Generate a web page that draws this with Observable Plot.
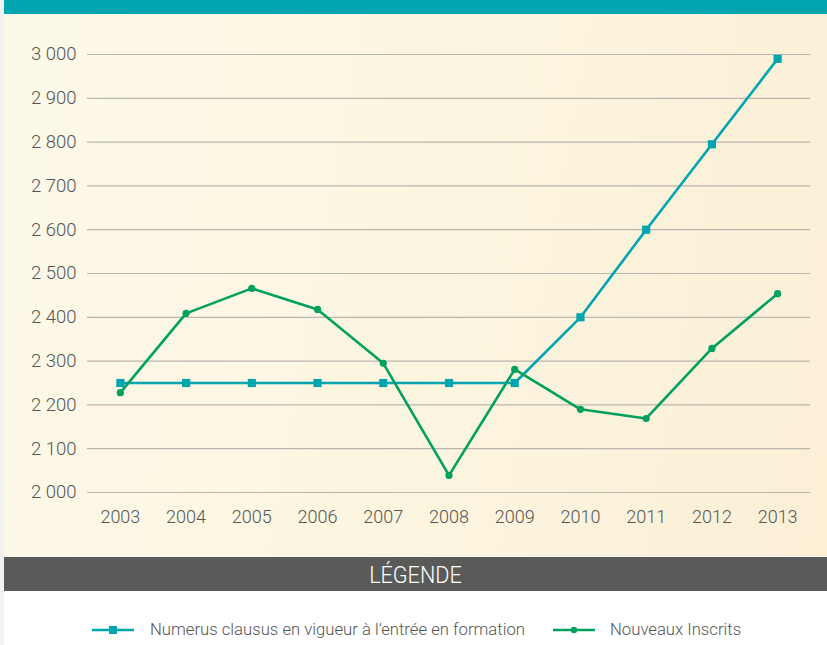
<!DOCTYPE html>
<html>
<head>
<meta charset="utf-8">
<script src="https://cdn.jsdelivr.net/npm/d3@7"></script>
<script src="https://cdn.jsdelivr.net/npm/@observablehq/plot@0.6"></script>
<style>
  html, body { margin: 0; padding: 0; background: #fff; }
  #page { position: relative; width: 827px; height: 645px; overflow: hidden; background: #fff; }
  #strip { position: absolute; left: 0; top: 0; width: 4px; height: 645px; background: #f2f2f2; }
  #banner { position: absolute; left: 4px; top: 0; width: 823px; height: 14px; background: #00a5af; }
  #chart { position: absolute; left: 4px; top: 14px; width: 823px; height: 542px;
    background: linear-gradient(100deg, #fdf9e9 0%, #fcf5df 55%, #fbefd6 100%); }
  #legendHead { position: absolute; left: 4px; top: 557px; width: 823px; height: 34px; background: #5a5a58;
    color: #fff; font-family: Roboto, "DejaVu Sans", sans-serif; font-weight: 300; font-size: 24px;
    text-align: center; line-height: 36px; }
  #legendHead span { display: inline-block; transform: scaleX(0.9); }
  #legend { position: absolute; left: 4px; top: 591px; width: 823px; height: 54px; background: #fff; }
  .item { position: absolute; top: 29px; font-family: Roboto, "Liberation Sans", sans-serif; font-weight: 300; font-size: 16.7px; color: #555; }
  .swatch { position: absolute; top: 8px; }
</style>
</head>
<body>
<div id="page">
  <div id="strip"></div>
  <div id="banner"></div>
  <div id="chart"></div>
  <div id="legendHead"><span>LÉGENDE</span></div>
  <div id="legend"></div>
</div>
<script>
const years = ["2003","2004","2005","2006","2007","2008","2009","2010","2011","2012","2013"];
const numerusClausus = [2250, 2250, 2250, 2250, 2250, 2250, 2250, 2400, 2600, 2795, 2990];
const nouveauxInscrits = [2228, 2409, 2466, 2418, 2295, 2039, 2281, 2190, 2169, 2329, 2454];
const yTicks = [2000, 2100, 2200, 2300, 2400, 2500, 2600, 2700, 2800, 2900, 3000];
const seriesNames = ["Numerus clausus en vigueur à l’entrée en formation", "Nouveaux Inscrits"];
const seriesColors = ["#00a5b0", "#00a05e"];

const nc = years.map((y, i) => ({year: y, value: numerusClausus[i]}));
const ni = years.map((y, i) => ({year: y, value: nouveauxInscrits[i]}));
const fmt = d => String(d).replace(/\B(?=(\d{3})+(?!\d))/g, " ");

const plot = Plot.plot({
  width: 823,
  height: 542,
  marginTop: 40,
  marginBottom: 64,
  marginLeft: 83,
  marginRight: 17,
  style: {background: "transparent", fontFamily: "Roboto, Liberation Sans, sans-serif", fontWeight: 300, fontSize: "18px", color: "#555"},
  x: {type: "point", domain: years, padding: 0.5, round: false, label: null},
  y: {domain: [2000, 3000], label: null},
  marks: [
    Plot.ruleY(yTicks, {stroke: "#b9b6ae", strokeWidth: 1.2}),
    Plot.axisY({ticks: yTicks, tickFormat: fmt, tickSize: 0, tickPadding: 11, fill: "#555", fontSize: 18.5, fontWeight: 300, label: null}),
    Plot.axisX({tickSize: 0, tickPadding: 18, fill: "#555", fontSize: 18, fontWeight: 300, label: null}),
    Plot.line(nc, {x: "year", y: "value", stroke: seriesColors[0], strokeWidth: 2.6}),
    Plot.dot(nc, {x: "year", y: "value", symbol: "square", fill: seriesColors[0], r: 4.6}),
    Plot.line(ni, {x: "year", y: "value", stroke: seriesColors[1], strokeWidth: 2.6}),
    Plot.dot(ni, {x: "year", y: "value", symbol: "circle", fill: seriesColors[1], r: 3.6})
  ]
});
document.getElementById("chart").appendChild(plot);

// Legend
const legend = document.getElementById("legend");
const positions = [{sx: 88, tx: 146}, {sx: 549, tx: 606}];
seriesNames.forEach((name, i) => {
  const sw = document.createElementNS("http://www.w3.org/2000/svg", "svg");
  sw.setAttribute("width", 44); sw.setAttribute("height", 20);
  sw.setAttribute("class", "swatch");
  sw.style.left = positions[i].sx + "px";
  sw.style.top = "29px";
  const ln = document.createElementNS("http://www.w3.org/2000/svg", "line");
  ln.setAttribute("x1", 0); ln.setAttribute("x2", 42); ln.setAttribute("y1", 10); ln.setAttribute("y2", 10);
  ln.setAttribute("stroke", seriesColors[i]); ln.setAttribute("stroke-width", 2.6);
  sw.appendChild(ln);
  if (i === 0) {
    const r = document.createElementNS("http://www.w3.org/2000/svg", "rect");
    r.setAttribute("x", 17); r.setAttribute("y", 6); r.setAttribute("width", 8); r.setAttribute("height", 8);
    r.setAttribute("fill", seriesColors[i]);
    sw.appendChild(r);
  } else {
    const c = document.createElementNS("http://www.w3.org/2000/svg", "circle");
    c.setAttribute("cx", 21); c.setAttribute("cy", 10); c.setAttribute("r", 3.2);
    c.setAttribute("fill", seriesColors[i]);
    sw.appendChild(c);
  }
  legend.appendChild(sw);
  const t = document.createElement("div");
  t.className = "item";
  t.style.left = positions[i].tx + "px";
  t.textContent = name;
  legend.appendChild(t);
});
</script>
</body>
</html>
